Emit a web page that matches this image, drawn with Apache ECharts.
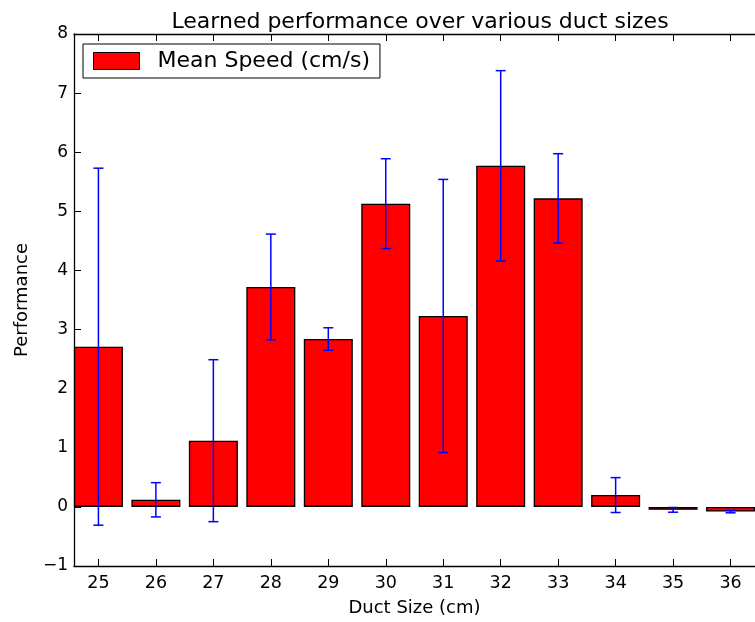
<!DOCTYPE html>
<html>
<head>
<meta charset="utf-8">
<script src="https://cdn.jsdelivr.net/npm/echarts@6/dist/echarts.min.js"></script>
<style>html,body{margin:0;padding:0;background:#fff}#c{width:755px;height:622px}</style>
</head>
<body>
<div id="c"></div>
<script>
const ductSizes = [25, 26, 27, 28, 29, 30, 31, 32, 33, 34, 35, 36];
const meanSpeed = [2.71, 0.12, 1.12, 3.72, 2.84, 5.13, 3.23, 5.77, 5.22, 0.20, -0.05, -0.08];
const speedErr = [3.02, 0.29, 1.37, 0.895, 0.19, 0.76, 2.31, 1.61, 0.755, 0.295, 0.04, 0.02];
const yTicks = [-1, 0, 1, 2, 3, 4, 5, 6, 7, 8];

const font = 'DejaVu Sans';
const chart = echarts.init(document.getElementById('c'), null, {renderer: 'canvas'});
const barData = ductSizes.map((d, i) => [d, meanSpeed[i]]);
const errData = ductSizes.map((d, i) => [d, meanSpeed[i] - speedErr[i], meanSpeed[i] + speedErr[i]]);

const xMin = ductSizes[0] - 0.425, xMax = ductSizes[ductSizes.length - 1] + 0.425;

chart.setOption({
  animation: false,
  backgroundColor: '#fff',
  title: {
    text: 'Learned performance over various duct sizes',
    left: 415, textAlign: 'center', top: 6,
    textStyle: {fontFamily: font, fontSize: 22, fontWeight: 'normal', color: '#000'}
  },
  legend: {
    left: 83, top: 44,
    padding: [6, 10, 6, 10],
    borderColor: '#000', borderWidth: 1,
    backgroundColor: '#fff',
    itemWidth: 46, itemHeight: 17,
    icon: 'rect',
    data: [{name: 'Mean Speed (cm/s)', itemStyle: {color: '#ff0000', borderColor: '#000', borderWidth: 1}}],
    textStyle: {fontFamily: font, fontSize: 22, color: '#000', padding: [0, 0, 0, 13]}
  },
  grid: {left: 74, top: 34, width: 682, height: 534},
  xAxis: [{
    type: 'value', min: xMin, max: xMax,
    position: 'bottom',
    name: 'Duct Size (cm)', nameLocation: 'middle', nameGap: 33,
    nameTextStyle: {fontFamily: font, fontSize: 18, color: '#000'},
    axisLine: {show: true, onZero: false, lineStyle: {color: '#000', width: 1.3}},
    axisTick: {show: true, inside: true, length: 7, customValues: ductSizes, lineStyle: {color: '#000'}},
    axisLabel: {customValues: ductSizes, fontFamily: font, fontSize: 17.5, color: '#000', margin: 8},
    splitLine: {show: false}
  }, {
    type: 'value', min: xMin, max: xMax,
    position: 'top',
    axisLine: {show: true, onZero: false, lineStyle: {color: '#000', width: 1.3}},
    axisTick: {show: true, inside: true, length: 7, customValues: ductSizes, lineStyle: {color: '#000'}},
    axisLabel: {show: false},
    splitLine: {show: false}
  }],
  yAxis: {
    type: 'value', min: yTicks[0], max: yTicks[yTicks.length - 1], interval: 1,
    name: 'Performance', nameLocation: 'middle', nameGap: 43,
    nameTextStyle: {fontFamily: font, fontSize: 18, color: '#000'},
    axisLine: {show: true, onZero: false, lineStyle: {color: '#000', width: 1.3}},
    axisTick: {show: true, inside: true, length: 7, lineStyle: {color: '#000'}},
    axisLabel: {formatter: v => (v < 0 ? '\u2212' + Math.abs(v) : String(v)), fontFamily: font, fontSize: 17, color: '#000', margin: 6},
    splitLine: {show: false}
  },
  series: [{
    name: 'Mean Speed (cm/s)',
    type: 'bar',
    data: barData,
    barWidth: 49,
    itemStyle: {color: '#ff0000', borderColor: '#000', borderWidth: 1.3}
  }, {
    type: 'custom',
    name: 'err',
    data: errData,
    z: 10,
    renderItem: function (params, api) {
      const x = api.value(0);
      const lo = api.coord([x, api.value(1)]);
      const hi = api.coord([x, api.value(2)]);
      const cw = 5;
      const st = {stroke: '#0000ff', lineWidth: 1.5};
      return {
        type: 'group',
        children: [
          {type: 'line', shape: {x1: lo[0], y1: lo[1], x2: hi[0], y2: hi[1]}, style: st},
          {type: 'line', shape: {x1: lo[0] - cw, y1: lo[1], x2: lo[0] + cw, y2: lo[1]}, style: st},
          {type: 'line', shape: {x1: hi[0] - cw, y1: hi[1], x2: hi[0] + cw, y2: hi[1]}, style: st}
        ]
      };
    }
  }]
});
</script>
</body>
</html>
